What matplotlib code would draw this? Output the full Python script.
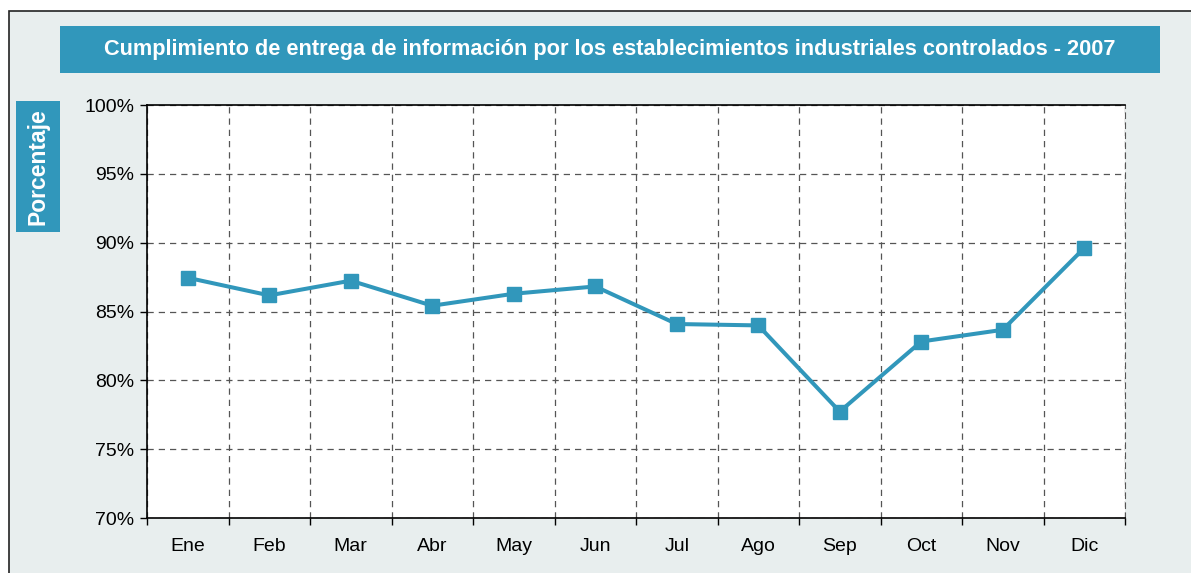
import matplotlib
matplotlib.use("Agg")
import matplotlib.pyplot as plt
from matplotlib.patches import Rectangle

# datos
meses = ["Ene", "Feb", "Mar", "Abr", "May", "Jun", "Jul", "Ago", "Sep", "Oct", "Nov", "Dic"]
cumplimiento = [87.45, 86.17, 87.24, 85.42, 86.29, 86.82, 84.09, 83.99, 77.73, 82.82, 83.67, 89.61]
y_ticks = [70, 75, 80, 85, 90, 95, 100]
titulo = "Cumplimiento de entrega de información por los establecimientos industriales controlados - 2007"

azul = "#3197BB"
fondo = "#E8EEEE"
W, H = 1191, 573

plt.rcParams['font.family'] = ['Liberation Sans', 'DejaVu Sans']

fig = plt.figure(figsize=(W / 100, H / 100), dpi=100, facecolor="white")

def px(x0, y0, x1, y1):
    # caja en pixeles (origen arriba-izquierda) -> coords de figura
    return (x0 / W, 1 - y1 / H, (x1 - x0) / W, (y1 - y0) / H)

# marco de fondo
x, y, w, h = px(9, 11, W + 5, H + 5)
fig.patches.append(Rectangle((x, y), w, h, transform=fig.transFigure,
                             facecolor=fondo, edgecolor="#222222", linewidth=1.2, zorder=-10))

# caja del titulo
x, y, w, h = px(60, 26, 1160, 73)
fig.patches.append(Rectangle((x, y), w, h, transform=fig.transFigure,
                             facecolor=azul, edgecolor="none", zorder=-5))
fig.text(x + w / 2, y + h / 2, titulo, color="white", fontsize=15.7, fontweight="bold",
         ha="center", va="center")

# caja etiqueta eje y
x, y, w, h = px(16, 101, 60, 232)
fig.patches.append(Rectangle((x, y), w, h, transform=fig.transFigure,
                             facecolor=azul, edgecolor="none", zorder=-5))
fig.text(x + w / 2, y + h / 2, "Porcentaje", color="white", fontsize=16.5, fontweight="bold",
         ha="center", va="center", rotation=90)

ax = fig.add_axes(px(147, 105, 1125, 518))
ax.set_zorder(2)
ax.set_facecolor("white")

pos = [i + 0.5 for i in range(len(meses))]
ax.plot(pos, cumplimiento, color=azul, linewidth=2.9, marker="s", markersize=10, zorder=3)

ax.set_xlim(0, len(meses))
ax.set_ylim(70, 100)

ax.set_yticks(y_ticks)
ax.set_yticklabels([f"{v}%" for v in y_ticks])
ax.set_xticks(range(len(meses) + 1))
ax.set_xticklabels([])
ax.set_xticks(pos, minor=True)
ax.set_xticklabels(meses, minor=True)

ax.tick_params(axis="y", which="major", length=5, width=1, labelsize=14, pad=4, colors="black")
ax.tick_params(axis="x", which="major", length=5, width=1, direction="out")
ax.tick_params(axis="x", which="minor", length=0, labelsize=14, pad=14.5)

ax.grid(True, which="major", color="#555555", linestyle=(0, (5, 4)), linewidth=0.9)
ax.set_axisbelow(True)

for s in ["left", "bottom", "top"]:
    ax.spines[s].set_color("black")
    ax.spines[s].set_linewidth(1.2)
ax.spines["right"].set_color("#555555")
ax.spines["right"].set_linestyle((0, (5, 4)))

fig.savefig("out.png", dpi=100, facecolor="white")
